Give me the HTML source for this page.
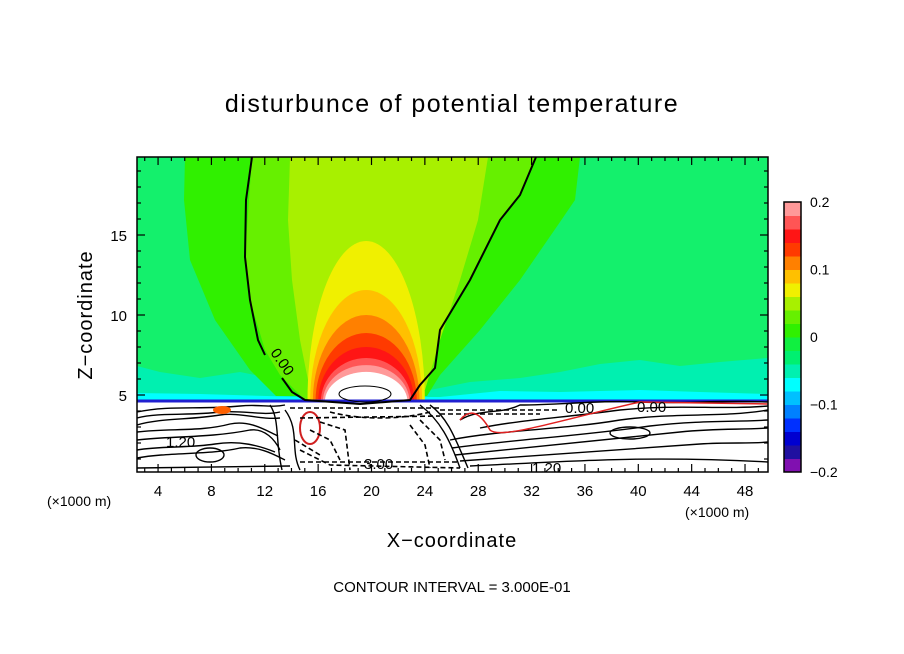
<!DOCTYPE html>
<html><head><meta charset="utf-8"><style>
html,body{margin:0;padding:0;background:#fff}
svg{display:block}
text{font-family:"Liberation Sans","DejaVu Sans",sans-serif;fill:#000}
</style></head><body>
<svg id="chart" width="904" height="654" viewBox="0 0 904 654" xmlns="http://www.w3.org/2000/svg">
<defs><clipPath id="pc"><rect x="137" y="157" width="631" height="315"/></clipPath></defs>
<text x="452" y="112" font-size="25" text-anchor="middle" letter-spacing="1.5">disturbunce of potential temperature</text>
<g id="plot" clip-path="url(#pc)">
  <rect x="137" y="157" width="631" height="315" fill="#14f06c"/>
  <path fill="#00f0b0" d="M137,366 L160,372 L200,378 L240,372 L280,380 L330,392 L420,392 L470,382 L520,378 L560,372 L600,364 L640,360 L680,366 L720,362 L768,358 L768,402 L137,402 Z"/>
  <path fill="#00ffff" d="M137,393 L200,394 L300,397 L440,397 L500,391 L560,392 L640,390 L700,392 L768,394 L768,402 L137,402 Z"/>
  <path fill="#30f000" d="M185,157 L580,157 L575,200 L560,222 L520,280 L480,330 L440,375 L427,396 L276,396 L250,370 L215,320 L190,260 L184,200 Z"/>
  <path fill="#66f000" d="M252,157 L536,157 L520,195 L500,220 L470,280 L440,330 L435,368 L420,385 L410,400 L305,400 L280,375 L265,350 L250,300 L245,257 Z"/>
  <path fill="#a8f000" d="M290,157 L488,157 L478,220 L460,280 L440,340 L425,390 L310,390 L300,340 L292,280 L288,220 Z"/>
  <g id="lobes"></g>
  <rect x="137" y="402" width="631" height="70" fill="#fff"/>
  <path d="M137,401 L768,401" stroke="#2020d0" stroke-width="3" fill="none"/>
  <path d="M252,157 L246,200 L245,257 L250,300 L258,340 L265,355 M282,378 L292,392 L305,400 L360,404 L410,400 L420,385 L435,368 L440,330 L470,280 L500,220 L520,195 L536,157" stroke="#000" stroke-width="2" fill="none"/>
  <ellipse cx="365" cy="394" rx="26" ry="8" fill="none" stroke="#000" stroke-width="1"/>
  <g fill="none" stroke="#000" stroke-width="1.4">
    <path d="M137,412 C170,405 200,410 240,406 C260,404 270,408 285,405"/>
    <path d="M137,418 C160,412 190,416 220,412 C245,410 262,416 280,412"/>
    <path d="M137,425 C160,418 190,420 220,415 C240,412 260,420 280,418"/>
    <path d="M137,432 C170,428 200,432 230,424 C250,420 265,430 278,436"/>
    <path d="M137,440 C170,436 210,438 250,430 C265,428 275,440 280,450"/>
    <path d="M137,450 C160,446 190,448 215,444 C240,440 260,446 275,452"/>
    <path d="M137,458 C170,452 210,455 240,448 C260,446 275,455 285,460"/>
    <path d="M137,468 L290,466"/>
    <ellipse cx="210" cy="455" rx="14" ry="7"/>
    <ellipse cx="310" cy="428" rx="10" ry="16" stroke="#d02020" stroke-width="2"/>
    <path d="M270,405 C280,420 275,440 282,470"/>
    <path d="M420,405 C440,420 450,440 460,468"/>
    <path d="M430,405 C448,418 455,438 468,468"/>
    <path d="M460,420 C480,408 500,415 520,405 C560,405 600,400 640,402 C680,404 720,400 768,402"/>
    <path d="M480,428 C520,420 560,418 620,410 C680,404 720,410 768,406"/>
    <path d="M450,440 C500,430 560,430 620,420 C680,412 720,418 768,410"/>
    <path d="M452,448 C510,440 580,436 650,426 C700,420 740,422 768,420"/>
    <path d="M455,455 C520,448 600,440 680,432 C720,428 740,430 768,428"/>
    <path d="M460,461 C540,456 620,450 700,444 C730,442 750,444 768,442"/>
    <path d="M470,466 C560,462 640,455 768,462"/>
    <ellipse cx="630" cy="433" rx="20" ry="6"/>
    <path d="M285,410 C300,430 290,450 300,470"/>
  </g>
  <g fill="none" stroke="#000" stroke-width="1.6" stroke-dasharray="5,3">
    <path d="M290,408 L440,408"/><path d="M300,418 L440,416"/><path d="M310,430 L330,440 L340,460"/>
    <path d="M300,450 L330,465 L460,468"/><path d="M420,420 L440,440 L445,460"/>
    <path d="M440,410 L560,410"/><path d="M330,412 C360,420 400,420 430,412"/>
    <path d="M320,422 L345,430 L350,470"/><path d="M295,440 L320,455"/><path d="M300,462 L460,462"/>
    <path d="M410,425 L425,445 L430,468"/><path d="M440,414 L540,414"/>
  </g>
  <path d="M460,420 C470,408 480,412 490,430 C500,440 560,420 640,402 L768,404" stroke="#e02020" stroke-width="1.5" fill="none"/>
  <ellipse cx="222" cy="410" rx="9" ry="4" fill="#ff6000"/>
  <text x="166" y="447" font-size="15">1.20</text>
  <text x="364" y="469" font-size="15">3.00</text>
  <text x="532" y="473" font-size="15">1.20</text>
  <text x="264" y="356" font-size="15" transform="rotate(55 270 360)">0.00</text>
  <text x="637" y="412" font-size="15">0.00</text>
  <text x="565" y="413" font-size="15">0.00</text>
</g>
<rect x="137" y="157" width="631" height="315" fill="none" stroke="#000" stroke-width="1.5"/>
<g id="ticks"></g>
<text transform="translate(92,315) rotate(-90)" font-size="20" text-anchor="middle" letter-spacing="1">Z−coordinate</text>
<text x="452" y="547" font-size="20" text-anchor="middle" letter-spacing="1">X−coordinate</text>
<text x="47" y="506" font-size="14">(×1000 m)</text>
<text x="685" y="517" font-size="14">(×1000 m)</text>
<text x="452" y="592" font-size="15" text-anchor="middle">CONTOUR INTERVAL = 3.000E-01</text>
<g id="cbar"></g>
</svg>
<script>
const xTicks=[4,8,12,16,20,24,28,32,36,40,44,48];
const yTicks=[5,10,15];
const cbLevels=[-0.2,-0.18,-0.16,-0.14,-0.12,-0.1,-0.08,-0.06,-0.04,-0.02,0,0.02,0.04,0.06,0.08,0.1,0.12,0.14,0.16,0.18,0.2];
const cbColors=["#8010b0","#2010a0","#0000d0","#0030ff","#0080ff","#00c0ff","#00ffff","#00f0b0","#00f070","#10f040","#30f000","#66f000","#a8f000","#f0f000","#ffc000","#ff8000","#ff3a00","#ff1515","#ff5555","#ff9999"];
const cbLabels=[-0.2,-0.1,0,0.1,0.2];
const lobeLevels=[0.06,0.08,0.1,0.12,0.14,0.16,0.18,0.2];
const lobeHeight=[10.06,7.0,5.44,4.31,3.44,2.75,2.31,1.88];
const lobeHalfWidth=[4.4,4.2,4.0,3.8,3.6,3.4,3.25,3.1];
const ns="http://www.w3.org/2000/svg";
const X=v=>104.7+v*13.34, Y=v=>475-v*16;
const CB=v=>472-(v+0.2)/0.4*270;
function mk(t,a,p){const e=document.createElementNS(ns,t);for(const k in a)e.setAttribute(k,a[k]);p.appendChild(e);return e;}
const tk=document.getElementById('ticks');
for(let v=3;v<=49;v++){const x=X(v);const L=(v%4==0)?8:4;
 const t1=mk('line',{x1:x,x2:x,y1:472,y2:472-L,stroke:'#000','stroke-width':1.2},tk);
 const t2=mk('line',{x1:x,x2:x,y1:157,y2:157+L,stroke:'#000','stroke-width':1.2},tk);}
for(let v=1;v<=19;v++){const y=Y(v);const L=(v%5==0)?8:4;
 const t1=mk('line',{x1:137,x2:137+L,y1:y,y2:y,stroke:'#000','stroke-width':1.2},tk);
 const t2=mk('line',{x1:768,x2:768-L,y1:y,y2:y,stroke:'#000','stroke-width':1.2},tk);}
xTicks.forEach(v=>{const t=mk('text',{x:X(v),y:496,'font-size':15,'text-anchor':'middle'},tk);t.textContent=v;
 });
yTicks.forEach(v=>{const t=mk('text',{x:127,y:Y(v)+6,'font-size':15,'text-anchor':'end'},tk);t.textContent=v;
 });
const lb=document.getElementById('lobes');
lobeLevels.forEach((lv,i)=>{const ci=Math.round((lv+0.2)/0.02);const cx=X(19.6),by=402,ry=lobeHeight[i]*16;const hw=lobeHalfWidth[i]*13.34;
 const col=(ci>=20)?'#ffffff':cbColors[ci];
 const p=mk('path',{d:`M${cx-hw},${by} A${hw},${ry} 0 0 1 ${cx+hw},${by} Z`,fill:col},lb);
 });
const cb=document.getElementById('cbar');
cbColors.forEach((c,i)=>{const r=mk('rect',{x:784,y:CB(cbLevels[i+1]),width:17,height:CB(cbLevels[i])-CB(cbLevels[i+1])+0.5,fill:c},cb);
 });
const fr=mk('rect',{x:784,y:202,width:17,height:270,fill:'none',stroke:'#000','stroke-width':1.5},cb);

cbLabels.forEach(v=>{const t=mk('text',{x:810,y:CB(v)+5,'font-size':14},cb);t.textContent=(v<0?'−':'')+Math.abs(v);
 });
</script>
</body></html>
